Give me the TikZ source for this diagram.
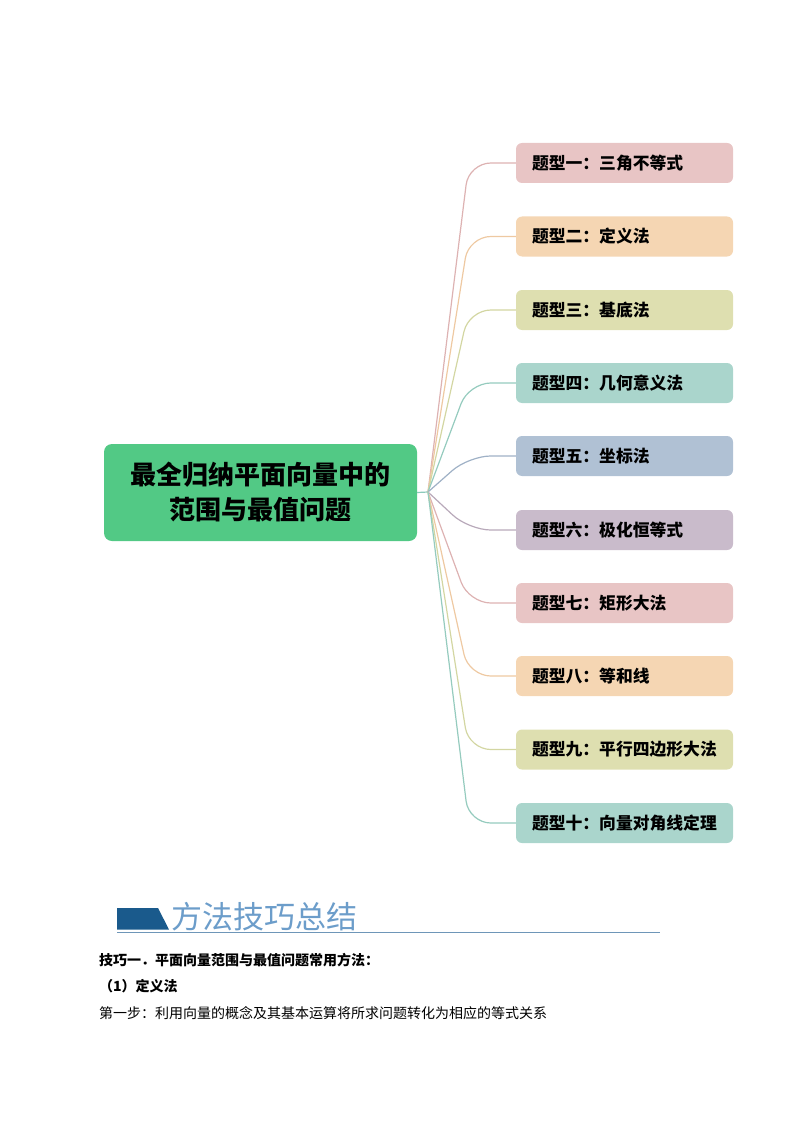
\documentclass[tikz,border=0pt]{standalone}
\usepackage{fontspec}
\setmainfont{Noto Sans CJK SC}
\definecolor{mainc}{HTML}{52C985}
\definecolor{fa}{HTML}{E8C5C5}\definecolor{la}{HTML}{DDB2B2}
\definecolor{fb}{HTML}{F5D6B3}\definecolor{lb}{HTML}{EEC9A2}
\definecolor{fc}{HTML}{DEDFB0}\definecolor{lc}{HTML}{D3D6A2}
\definecolor{fd}{HTML}{AAD5CC}\definecolor{ld}{HTML}{95CBBE}
\definecolor{fe}{HTML}{B0C1D4}\definecolor{le}{HTML}{9FB1C6}
\definecolor{ff}{HTML}{C9BBCB}\definecolor{lf}{HTML}{B8A9BA}
\definecolor{hdr}{HTML}{1A5A8C}
\definecolor{hdrtxt}{HTML}{6C9DCA}
\definecolor{uline}{HTML}{6E96B8}
\definecolor{jcol}{HTML}{8CCABB}
\tikzset{
  mainbox/.style={rounded corners=8pt, fill=mainc, minimum width=313pt, minimum height=97pt,
    align=center, inner sep=0pt, font=\fontsize{26}{35}\selectfont\bfseries},
  branchbox/.style={rounded corners=6pt, minimum height=40pt, text width=185pt, inner xsep=16pt,
    inner ysep=0pt, align=left, font=\fontsize{16.8}{20}\selectfont\bfseries},
  conn/.style={line width=1.2pt, rounded corners=22pt},
  plain/.style={anchor=west, inner sep=0pt, font=\fontsize{14}{16}\selectfont},
}
\begin{document}
\begin{tikzpicture}[x=1pt,y=-1pt]
\path[use as bounding box] (0,0) rectangle (794,1123);
\node[mainbox] (c) at (260.5,492.5) {最全归纳平面向量中的\\范围与最值问题};
\coordinate (j) at (428,492);
\draw[line width=1.2pt, jcol] (c.east) -- (j);
\node[branchbox, fill=fa] (b1) at (624.5,163) {题型一：三角不等式};
\node[branchbox, fill=fb] (b2) at (624.5,236.5) {题型二：定义法};
\node[branchbox, fill=fc] (b3) at (624.5,310) {题型三：基底法};
\node[branchbox, fill=fd] (b4) at (624.5,383) {题型四：几何意义法};
\node[branchbox, fill=fe] (b5) at (624.5,456) {题型五：坐标法};
\node[branchbox, fill=ff] (b6) at (624.5,530) {题型六：极化恒等式};
\node[branchbox, fill=fa] (b7) at (624.5,603) {题型七：矩形大法};
\node[branchbox, fill=fb] (b8) at (624.5,676) {题型八：等和线};
\node[branchbox, fill=fc] (b9) at (624.5,749.5) {题型九：平行四边形大法};
\node[branchbox, fill=fd] (b10) at (624.5,823) {题型十：向量对角线定理};
\foreach \n/\c in {b1/la,b2/lb,b3/lc,b4/ld,b5/le,b6/lf,b7/la,b8/lb,b9/lc,b10/ld}{
  \draw[conn, \c] (j) -- ([xshift=-47pt]\n.west) -- (\n.west);
}
% header
\fill[hdr] (117,908) -- (158,908) -- (169,929.5) -- (117,929.5) -- cycle;
\node[anchor=west, inner sep=0pt, text=hdrtxt, font=\fontsize{31}{34}\selectfont] (ht) at (171,916.5) {方法技巧总结};
\coordinate (u1) at (117,932.5);
\coordinate (u2) at (660,932.5);
\draw[line width=1.1pt, uline] (u1) -- (u2);
\node[plain, font=\fontsize{14}{16}\selectfont\bfseries] (t1) at (99,960) {技巧一．平面向量范围与最值问题常用方法：};
\node[plain, font=\fontsize{14}{16}\selectfont\bfseries] (t2) at (99,986.5) {（1）定义法};
\node[plain] (t3) at (99,1013) {第一步：利用向量的概念及其基本运算将所求问题转化为相应的等式关系};
\end{tikzpicture}
\end{document}
